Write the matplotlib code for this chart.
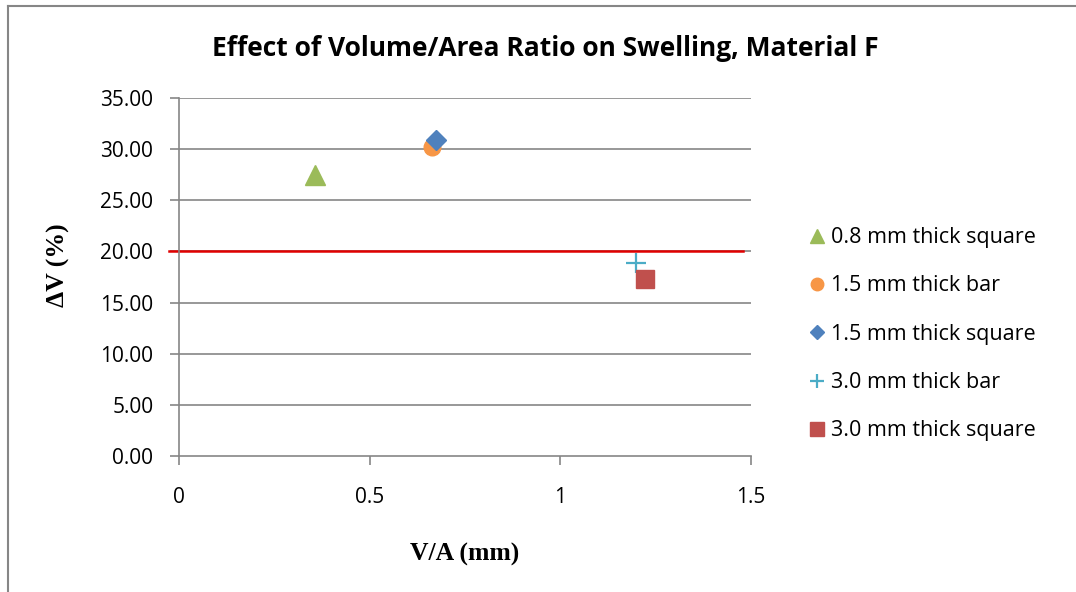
import matplotlib
matplotlib.use('Agg')
import matplotlib.pyplot as plt
from matplotlib.lines import Line2D

# Data
series_names = ['0.8 mm thick square', '1.5 mm thick bar', '1.5 mm thick square',
                '3.0 mm thick bar', '3.0 mm thick square']
va_ratio = [0.357, 0.663, 0.674, 1.198, 1.222]
delta_v = [27.5, 30.2, 30.9, 18.9, 17.3]
markers = ['^', 'o', 'D', '+', 's']
sizes = [14, 12, 10, 14, 13]
colors = ['#9BBB59', '#F79646', '#4F81BD', '#4BACC6', '#C0504D']
limit_value = 20.0

x_ticks = [0, 0.5, 1, 1.5]
x_tick_labels = ['0', '0.5', '1', '1.5']
y_ticks = [0, 5, 10, 15, 20, 25, 30, 35]

fig = plt.figure(figsize=(10.76, 5.92), dpi=100)
ax = fig.add_axes([179 / 1076, 1 - 456 / 592, 572 / 1076, 358 / 592])

grid_col = '#868686'
for yv in y_ticks[1:]:
    ax.axhline(yv, color=grid_col, lw=1.2, zorder=1)

for name, xv, yv, m, s, c in zip(series_names, va_ratio, delta_v, markers, sizes, colors):
    kw = dict(markeredgecolor=c, markerfacecolor=c)
    if m == '+':
        kw['markeredgewidth'] = 1.6
    ax.plot([xv], [yv], linestyle='none', marker=m, markersize=s, color=c,
            label=name, zorder=3, **kw)

# red limit line
ax.add_line(Line2D([-0.026, 1.479], [limit_value, limit_value], color='#E00000',
                   lw=1.8, clip_on=False, zorder=2))

ax.set_xlim(0, 1.5)
ax.set_ylim(0, 35)
ax.set_xticks(x_ticks)
ax.set_xticklabels(x_tick_labels)
ax.set_yticks(y_ticks)
ax.set_yticklabels([f'{v:.2f}' for v in y_ticks])

for side in ['top', 'right']:
    ax.spines[side].set_visible(False)
for side in ['left', 'bottom']:
    ax.spines[side].set_color(grid_col)
    ax.spines[side].set_linewidth(1.2)
ax.tick_params(axis='both', direction='out', length=6.5, width=1.2, color=grid_col,
               labelsize=15)
for lab in ax.get_xticklabels() + ax.get_yticklabels():
    lab.set_fontfamily('Open Sans')
ax.tick_params(axis='x', pad=16)
ax.tick_params(axis='y', pad=12)

ax.set_xlabel('V/A (mm)', fontfamily='Liberation Serif', fontweight='bold', fontsize=18.5)
ax.set_ylabel('\u0394V (%)', fontfamily='Liberation Serif', fontweight='bold', fontsize=18.5)
ax.xaxis.set_label_coords(0.5, -0.243)
ax.yaxis.set_label_coords(-0.19, 0.533)

fig.text(545 / 1076, 1 - 49 / 592, 'Effect of Volume/Area Ratio on Swelling, Material F',
         ha='center', va='center', fontfamily='Open Sans', fontweight='bold', fontsize=19)

leg = ax.legend(loc='center left', bbox_to_anchor=(1.1, 0.34), frameon=False,
                prop={'family': 'Open Sans', 'size': 15.5}, handlelength=0.8,
                handletextpad=0.25, labelspacing=1.27, borderaxespad=0, borderpad=0,
                markerscale=0.75)

# chart border
fig.add_artist(Line2D([8 / 1076, 8 / 1076], [0, 1 - 6 / 592], transform=fig.transFigure,
                      color=grid_col, lw=1.5))
fig.add_artist(Line2D([8 / 1076, 1], [1 - 6 / 592, 1 - 6 / 592], transform=fig.transFigure,
                      color=grid_col, lw=1.5))

fig.savefig('out.png', dpi=100)
